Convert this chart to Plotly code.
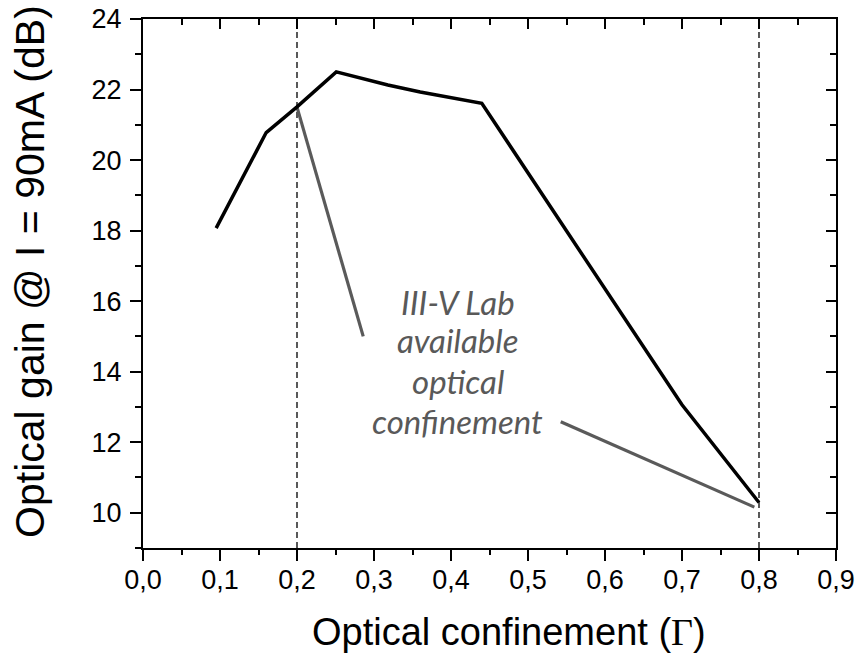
import plotly.graph_objects as go

# Main curve: optical gain vs optical confinement
gamma = [0.095, 0.160, 0.200, 0.251, 0.318, 0.360, 0.440, 0.500, 0.600, 0.700, 0.800]
gain = [18.07, 20.78, 21.51, 22.50, 22.13, 21.93, 21.61, 19.64, 16.35, 13.06, 10.29]

# Vertical dashed markers (available optical confinement range)
vline_x = [0.2, 0.8]
vline_y = [9, 24]

# Grey pointer lines from label to range limits
ptr1_x = [0.200, 0.286]
ptr1_y = [21.50, 15.00]
ptr2_x = [0.5425, 0.794]
ptr2_y = [12.58, 10.16]

label_lines = ["III-V Lab", "available", "optical", "confinement"]
label_x = 0.409
label_y = [15.98, 14.90, 13.74, 12.60]

x_ticks = [round(i * 0.1, 1) for i in range(10)]
x_ticklabels = ["0,0", "0,1", "0,2", "0,3", "0,4", "0,5", "0,6", "0,7", "0,8", "0,9"]
y_ticks = [10, 12, 14, 16, 18, 20, 22, 24]

XR = [0, 0.9]
YR = [9, 24]

fig = go.Figure()

for xv in vline_x:
    fig.add_trace(go.Scatter(x=[xv, xv], y=vline_y, mode="lines",
                             line=dict(color="black", width=1.3, dash="6px,4px"),
                             hoverinfo="skip", showlegend=False))

fig.add_trace(go.Scatter(x=ptr1_x, y=ptr1_y, mode="lines",
                         line=dict(color="#5a5a5a", width=3.2), showlegend=False))
fig.add_trace(go.Scatter(x=ptr2_x, y=ptr2_y, mode="lines",
                         line=dict(color="#5a5a5a", width=3.2), showlegend=False))

fig.add_trace(go.Scatter(x=gamma, y=gain, mode="lines",
                         line=dict(color="black", width=3.5), showlegend=False))

# invisible trace for mirror axes
fig.add_trace(go.Scatter(x=XR, y=YR, xaxis="x2", yaxis="y2", mode="markers",
                         marker=dict(opacity=0), hoverinfo="skip", showlegend=False))

for txt, yy in zip(label_lines, label_y):
    fig.add_annotation(x=label_x, y=yy, xref="x", yref="y", text=txt, showarrow=False,
                       font=dict(family="Lato", size=33, color="#595959", style="italic"),
                       xanchor="center", yanchor="middle")

# Axis titles
fig.add_annotation(x=0.528, y=-0.159, xref="paper", yref="paper", showarrow=False,
                   text='Optical confinement (<span style="font-family:Liberation Serif">Γ</span>)',
                   font=dict(family="Liberation Sans, Arial", size=38, color="black"),
                   xanchor="center", yanchor="middle")
fig.add_annotation(x=-0.163, y=0.522, xref="paper", yref="paper", showarrow=False,
                   text="Optical gain @ I = 90mA (dB)", textangle=-90,
                   font=dict(family="Liberation Sans, Arial", size=41, color="black"),
                   xanchor="center", yanchor="middle")

tickfont = dict(family="Liberation Sans, Arial", size=27, color="black")

common = dict(showgrid=False, zeroline=False, automargin=False, showline=True,
              linewidth=2, linecolor="black", tickwidth=2, tickcolor="black",
              ticklabeloverflow="allow")

fig.update_layout(
    width=862, height=666,
    margin=dict(l=143, r=26, t=19, b=118),
    plot_bgcolor="white", paper_bgcolor="white",
    xaxis=dict(range=XR, tickvals=x_ticks, ticktext=x_ticklabels, ticks="outside",
               ticklen=11, tickfont=tickfont, ticklabelstandoff=-4,
               minor=dict(dtick=0.05, tick0=0, ticks="outside", ticklen=5, tickwidth=2,
                          tickcolor="black", showgrid=False), **common),
    yaxis=dict(range=YR, tickvals=y_ticks, ticks="outside", ticklen=11, tickfont=tickfont,
               ticklabelstandoff=3,
               minor=dict(dtick=1, tick0=0, ticks="outside", ticklen=6, tickwidth=2,
                          tickcolor="black", showgrid=False), **common),
    xaxis2=dict(range=XR, overlaying="x", side="top", anchor="y2", tickvals=x_ticks,
                ticks="inside", ticklen=10, showticklabels=False,
                minor=dict(dtick=0.05, tick0=0, ticks="inside", ticklen=6, tickwidth=2,
                           tickcolor="black", showgrid=False), **common),
    yaxis2=dict(range=YR, overlaying="y", side="right", anchor="x2", tickvals=y_ticks,
                ticks="inside", ticklen=10, showticklabels=False,
                minor=dict(dtick=1, tick0=0, ticks="inside", ticklen=6, tickwidth=2,
                           tickcolor="black", showgrid=False), **common),
)

# remove the browser's default 8px body margin so the figure fills the window exactly
fig.write_html("out.html", config={"displayModeBar": False},
               post_script="document.body.style.margin='0';")
